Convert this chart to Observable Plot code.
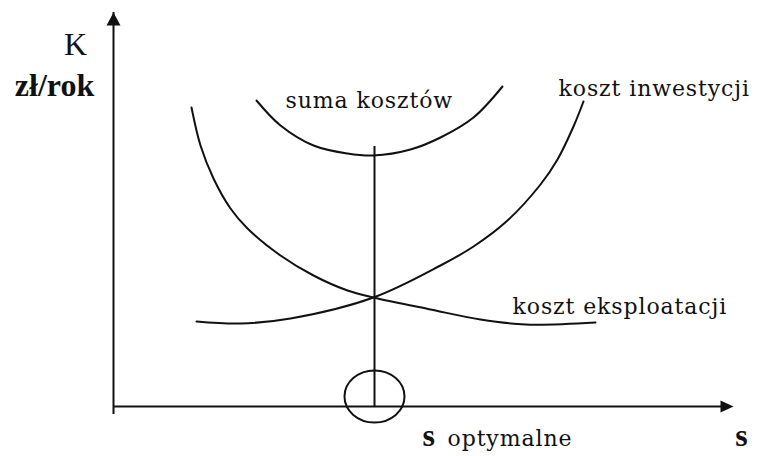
<!DOCTYPE html>
<html>
<head>
<meta charset="utf-8">
<script src="https://cdn.jsdelivr.net/npm/d3@7"></script>
<script src="https://cdn.jsdelivr.net/npm/@observablehq/plot@0.6"></script>
<style>
  html, body { margin: 0; padding: 0; background: #fff; }
  svg { display: block; }
</style>
</head>
<body>
<div id="chart"></div>
<script>
// axis extents (s, K in arbitrary units)
const sMax = 620;
const kMax = 394;

// koszt inwestycji (rising curve)
const invS = [83, 127, 177, 260, 327, 360, 394, 427, 444, 460, 470];
const invK = [85, 83, 88, 109, 141, 160, 186, 222, 247, 280, 305];

// koszt eksploatacji (falling curve)
const eksS = [78, 87, 100, 117, 134, 167, 200, 234, 260, 317, 367, 412, 482];
const eksK = [299, 261, 228, 198, 178, 151, 131, 116, 109, 97, 87, 82, 84];

// suma kosztów
const sumS = [143, 167, 200, 234, 260, 297, 327, 360, 389];
const sumK = [306, 281, 261, 253, 251, 257, 269, 289, 320];

// optimum
const sOpt = 261;
const kOptSum = 260;

// labels
const labelInv = "koszt inwestycji";
const labelEks = "koszt eksploatacji";
const labelSum = "suma kosztów";
const labelYTop = "K";
const labelYUnit = "zł/rok";
const labelX = "s";
const labelOpt = "optymalne";

const toRows = (xs, ys) => xs.map((s, i) => ({s, k: ys[i]}));
const inv = toRows(invS, invK);
const eks = toRows(eksS, eksK);
const sum = toRows(sumS, sumK);

const arrowUp = {draw(ctx) { ctx.moveTo(0, 0); ctx.lineTo(-7, 13); ctx.lineTo(7, 13); ctx.closePath(); }};
const arrowRight = {draw(ctx) { ctx.moveTo(0, 0); ctx.lineTo(-13, -6); ctx.lineTo(-13, 6); ctx.closePath(); }};
const ellipse = {draw(ctx) {
  const rx = 30, ry = 26, k = 0.5523;
  ctx.moveTo(rx, 0);
  ctx.bezierCurveTo(rx, ry * k, rx * k, ry, 0, ry);
  ctx.bezierCurveTo(-rx * k, ry, -rx, ry * k, -rx, 0);
  ctx.bezierCurveTo(-rx, -ry * k, -rx * k, -ry, 0, -ry);
  ctx.bezierCurveTo(rx * k, -ry, rx, -ry * k, rx, 0);
  ctx.closePath();
}};

const serifA = "'Liberation Serif', 'Times New Roman', serif";
const serifB = "'DejaVu Serif', serif";
const ink = "#111";
const curve = "catmull-rom";

const chart = Plot.plot({
  width: 757,
  height: 456,
  marginLeft: 113,
  marginRight: 24,
  marginTop: 12,
  marginBottom: 50,
  x: {domain: [0, sMax], axis: null},
  y: {domain: [0, kMax], axis: null},
  style: {background: "#fff", overflow: "visible"},
  marks: [
    // axes
    Plot.ruleX([0], {y1: 0, y2: kMax, stroke: ink, strokeWidth: 2, insetTop: 8}),
    Plot.ruleY([0], {x1: 0, x2: sMax, stroke: ink, strokeWidth: 2, insetRight: 8}),
    Plot.dot([{s: 0, k: kMax}], {x: "s", y: "k", symbol: arrowUp, r: 5, fill: ink, stroke: null}),
    Plot.dot([{s: sMax, k: 0}], {x: "s", y: "k", symbol: arrowRight, r: 5, fill: ink, stroke: null}),
    // curves
    Plot.line(inv, {x: "s", y: "k", curve, stroke: ink, strokeWidth: 2}),
    Plot.line(eks, {x: "s", y: "k", curve, stroke: ink, strokeWidth: 2}),
    Plot.line(sum, {x: "s", y: "k", curve, stroke: ink, strokeWidth: 2}),
    // optimum
    Plot.ruleX([sOpt], {y1: 0, y2: kOptSum, stroke: ink, strokeWidth: 2}),
    Plot.dot([{s: sOpt, k: 0}], {x: "s", y: "k", symbol: ellipse, r: 5, fill: "none", stroke: ink, strokeWidth: 2, dy: -10}),
    // curve labels
    Plot.text([inv[inv.length - 1]], {x: "s", y: "k", text: () => labelInv, textAnchor: "start", lineAnchor: "bottom", dx: -25, dy: -6, fontFamily: serifB, fontSize: 22, fill: ink}),
    Plot.text([eks[eks.length - 1]], {x: "s", y: "k", text: () => labelEks, textAnchor: "start", lineAnchor: "bottom", dx: -83, dy: -9, fontFamily: serifB, fontSize: 22, fill: ink}),
    Plot.text([sum[0]], {x: "s", y: "k", text: () => labelSum, textAnchor: "start", lineAnchor: "bottom", dx: 29, dy: 7, fontFamily: serifB, fontSize: 22, fill: ink}),
    // axis labels
    Plot.text([{s: 0, k: kMax}], {x: "s", y: "k", text: () => labelYTop, textAnchor: "middle", lineAnchor: "bottom", dx: -38, dy: 42, fontFamily: serifA, fontSize: 32, fill: ink}),
    Plot.text([{s: 0, k: kMax}], {x: "s", y: "k", text: () => labelYUnit, textAnchor: "middle", lineAnchor: "bottom", dx: -59, dy: 83, fontFamily: serifA, fontSize: 32, fontWeight: "bold", fill: ink}),
    Plot.text([{s: sMax, k: 0}], {x: "s", y: "k", text: () => labelX, textAnchor: "middle", lineAnchor: "bottom", dx: 8, dy: 39, fontFamily: serifA, fontSize: 32, fontWeight: "bold", fill: ink}),
    Plot.text([{s: sOpt, k: 0}], {x: "s", y: "k", text: () => labelX, textAnchor: "start", lineAnchor: "bottom", dx: 48, dy: 39, fontFamily: serifA, fontSize: 32, fontWeight: "bold", fill: ink}),
    Plot.text([{s: sOpt, k: 0}], {x: "s", y: "k", text: () => labelOpt, textAnchor: "start", lineAnchor: "bottom", dx: 73, dy: 39, fontFamily: serifB, fontSize: 22, fill: ink})
  ]
});
d3.select(chart).selectAll("g[font-family*='DejaVu']").attr("letter-spacing", "0.9");
document.getElementById("chart").appendChild(chart);
</script>
</body>
</html>
